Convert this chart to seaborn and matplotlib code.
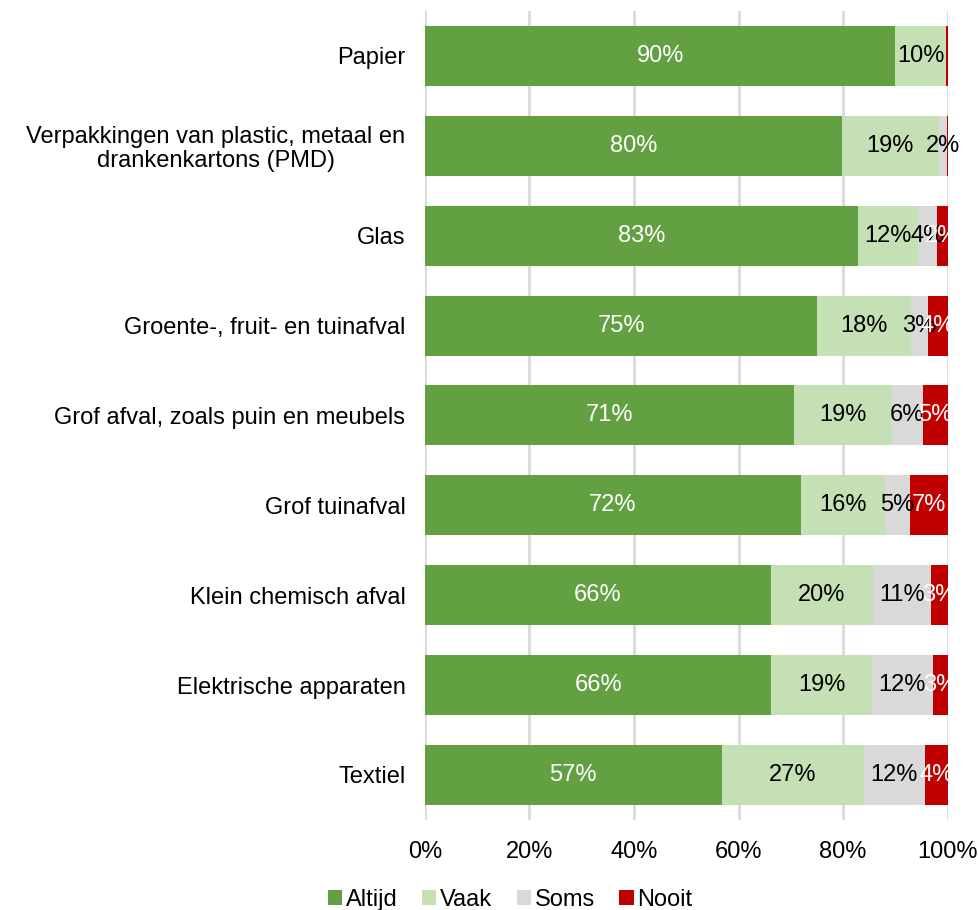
import numpy as np
import pandas as pd
import matplotlib
matplotlib.use("Agg")
import matplotlib.pyplot as plt
import seaborn as sns
from matplotlib.patches import Patch

# Data (percent of respondents per waste type)
categories = [
    "Papier",
    "Verpakkingen van plastic, metaal en\ndrankenkartons (PMD)",
    "Glas",
    "Groente-, fruit- en tuinafval",
    "Grof afval, zoals puin en meubels",
    "Grof tuinafval",
    "Klein chemisch afval",
    "Elektrische apparaten",
    "Textiel",
]
altijd = [90.0, 79.7, 82.8, 75.1, 70.7, 71.9, 66.2, 66.3, 56.8]
vaak = [9.6, 18.6, 11.5, 17.8, 18.6, 16.1, 19.5, 19.2, 27.1]
soms = [0.1, 1.5, 3.6, 3.3, 5.9, 4.7, 11.2, 11.6, 11.7]
nooit = [0.3, 0.2, 2.1, 3.8, 4.8, 7.3, 3.1, 2.9, 4.4]
series = ["Altijd", "Vaak", "Soms", "Nooit"]
colors = ["#63a042", "#c5e0b4", "#d9d9d9", "#c00000"]
text_colors = ["white", "black", "black", "white"]

sns.set_style("white")
plt.rcParams["font.family"] = ["Liberation Sans", "DejaVu Sans"]
plt.rcParams["text.color"] = "black"
plt.rcParams["xtick.color"] = "black"
plt.rcParams["ytick.color"] = "black"

FS = 17

df = pd.DataFrame({"cat": categories, "Altijd": altijd, "Vaak": vaak,
                   "Soms": soms, "Nooit": nooit})
cum = df[series].cumsum(axis=1)

fig = plt.figure(figsize=(9.79, 9.10), dpi=100)
ax = fig.add_axes([0.434, 0.099, 0.534, 0.889])

# draw stacked bars back-to-front using cumulative totals
for s, c in reversed(list(zip(series, colors))):
    sns.barplot(x=cum[s], y=df["cat"], color=c, orient="h", width=0.667,
                linewidth=0, saturation=1, ax=ax, zorder=2)

# segment labels
for i in range(len(categories)):
    for s, tc in zip(series, text_colors):
        v = df.loc[i, s]
        if v < 1:
            continue
        ax.text(cum.loc[i, s] - v / 2, i, f"{v:.0f}%", ha="center", va="center",
                color=tc, fontsize=FS, zorder=5)

ax.set_xlim(0, 100)
ax.set_ylim(8.5, -0.5)
ax.set_xticks(np.arange(0, 101, 20))
ax.set_xticklabels([f"{t}%" for t in range(0, 101, 20)])
ax.xaxis.grid(True, color="#d9d9d9", linewidth=2, zorder=0)
ax.set_axisbelow(True)
for sp in ax.spines.values():
    sp.set_visible(False)
ax.tick_params(axis="both", length=0, labelsize=FS)
ax.tick_params(axis="x", pad=15)
ax.tick_params(axis="y", pad=14)
for lab in ax.get_yticklabels():
    lab.set_multialignment("center")
    lab.set_linespacing(1.1)
ax.set_xlabel("")
ax.set_ylabel("")

handles = [Patch(facecolor=c, edgecolor="none", label=s) for s, c in zip(series, colors)]
fig.legend(handles=handles, loc="lower center", bbox_to_anchor=(0.521, -0.024), ncol=4,
           frameon=False, fontsize=FS, handlelength=0.6, handleheight=0.6,
           handletextpad=0.15, columnspacing=1.05)

plt.savefig("out.png", dpi=100)
